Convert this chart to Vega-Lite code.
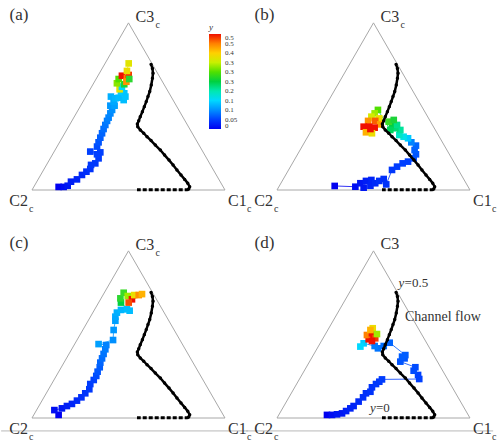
{
"$schema": "https://vega.github.io/schema/vega-lite/v6.json",
"padding": 0,
"bounds": "flush",
"spacing": 0,
"columns": 2,
"config": {"view": {"stroke": null}, "text": {"font": "Liberation Serif"}},
"resolve": {"scale": {"color": "independent", "stroke": "independent"}, "legend": {"color": "independent", "stroke": "independent"}},
"datasets": {
"tri": [{"o":0,"u":0,"v":0},{"o":1,"u":1,"v":0},{"o":2,"u":0.5,"v":0.866},{"o":3,"u":0,"v":0}],
"curve": [
{"o":1,"seg":"c","u":0.617,"v":0.651},{"o":2,"seg":"c","u":0.624,"v":0.630},{"o":3,"seg":"c","u":0.627,"v":0.605},{"o":4,"seg":"c","u":0.624,"v":0.579},{"o":5,"seg":"c","u":0.618,"v":0.544},{"o":6,"seg":"c","u":0.610,"v":0.510},{"o":7,"seg":"c","u":0.601,"v":0.484},{"o":8,"seg":"c","u":0.592,"v":0.458},{"o":9,"seg":"c","u":0.582,"v":0.432},{"o":10,"seg":"c","u":0.572,"v":0.406},{"o":11,"seg":"c","u":0.561,"v":0.380},{"o":12,"seg":"c","u":0.553,"v":0.359},{"o":13,"seg":"c","u":0.546,"v":0.342},{"o":14,"seg":"c","u":0.548,"v":0.328},{"o":15,"seg":"c","u":0.561,"v":0.311},{"o":16,"seg":"c","u":0.579,"v":0.294},{"o":17,"seg":"c","u":0.596,"v":0.276},{"o":18,"seg":"c","u":0.617,"v":0.256},{"o":19,"seg":"c","u":0.639,"v":0.233},{"o":20,"seg":"c","u":0.665,"v":0.207},{"o":21,"seg":"c","u":0.687,"v":0.181},{"o":22,"seg":"c","u":0.710,"v":0.155},{"o":23,"seg":"c","u":0.731,"v":0.130},{"o":24,"seg":"c","u":0.751,"v":0.104},{"o":25,"seg":"c","u":0.772,"v":0.078},{"o":26,"seg":"c","u":0.791,"v":0.055},{"o":27,"seg":"c","u":0.807,"v":0.035},{"o":28,"seg":"c","u":0.817,"v":0.017},{"o":29,"seg":"c","u":0.812,"v":0.005},
{"o":30,"seg":"b","u":0.812,"v":0.002},{"o":31,"seg":"b","u":0.803,"v":0.001},{"o":32,"seg":"b","u":0.777,"v":0.001},{"o":33,"seg":"b","u":0.751,"v":0.001},{"o":34,"seg":"b","u":0.725,"v":0.001},{"o":35,"seg":"b","u":0.699,"v":0.001},{"o":36,"seg":"b","u":0.674,"v":0.001},{"o":37,"seg":"b","u":0.648,"v":0.001},{"o":38,"seg":"b","u":0.622,"v":0.001},{"o":39,"seg":"b","u":0.596,"v":0.001},{"o":40,"seg":"b","u":0.570,"v":0.001},{"o":41,"seg":"b","u":0.544,"v":0.001}
],
"pa": [
{"i":1,"u":0.138,"v":0.016,"val":0.0},{"i":2,"u":0.164,"v":0.016,"val":0.005},{"i":3,"u":0.185,"v":0.022,"val":0.01},{"i":4,"u":0.202,"v":0.043,"val":0.015},{"i":5,"u":0.233,"v":0.055,"val":0.02},{"i":6,"u":0.259,"v":0.078,"val":0.025},{"i":7,"u":0.282,"v":0.095,"val":0.03},{"i":8,"u":0.302,"v":0.109,"val":0.035},{"i":9,"u":0.306,"v":0.130,"val":0.04},{"i":10,"u":0.328,"v":0.138,"val":0.04},{"i":11,"u":0.345,"v":0.164,"val":0.045},{"i":12,"u":0.337,"v":0.185,"val":0.05},{"i":13,"u":0.302,"v":0.199,"val":0.05},{"i":14,"u":0.354,"v":0.195,"val":0.05},{"i":15,"u":0.337,"v":0.225,"val":0.055},{"i":16,"u":0.345,"v":0.247,"val":0.06},{"i":17,"u":0.354,"v":0.271,"val":0.065},{"i":18,"u":0.363,"v":0.294,"val":0.07},{"i":19,"u":0.371,"v":0.316,"val":0.075},{"i":20,"u":0.380,"v":0.337,"val":0.08},{"i":21,"u":0.389,"v":0.358,"val":0.085},{"i":22,"u":0.397,"v":0.375,"val":0.09},{"i":23,"u":0.406,"v":0.397,"val":0.095},{"i":24,"u":0.415,"v":0.415,"val":0.1},{"i":25,"u":0.406,"v":0.437,"val":0.105},{"i":26,"u":0.428,"v":0.437,"val":0.11},{"i":27,"u":0.423,"v":0.458,"val":0.115},{"i":28,"u":0.409,"v":0.484,"val":0.12},{"i":29,"u":0.432,"v":0.475,"val":0.125},{"i":30,"u":0.449,"v":0.478,"val":0.13},{"i":31,"u":0.475,"v":0.466,"val":0.13},{"i":32,"u":0.478,"v":0.501,"val":0.135},{"i":33,"u":0.461,"v":0.509,"val":0.14},{"i":34,"u":0.484,"v":0.484,"val":0.135},{"i":35,"u":0.454,"v":0.522,"val":0.37},{"i":36,"u":0.466,"v":0.535,"val":0.15},{"i":37,"u":0.440,"v":0.553,"val":0.32},{"i":38,"u":0.478,"v":0.548,"val":0.26},{"i":39,"u":0.449,"v":0.575,"val":0.3},{"i":40,"u":0.466,"v":0.592,"val":0.5},{"i":41,"u":0.492,"v":0.579,"val":0.45},{"i":42,"u":0.501,"v":0.596,"val":0.49},{"i":43,"u":0.489,"v":0.561,"val":0.44},{"i":44,"u":0.504,"v":0.575,"val":0.27},{"i":45,"u":0.492,"v":0.617,"val":0.38},{"i":46,"u":0.501,"v":0.656,"val":0.37}
],
"pb": [
{"i":1,"u":0.299,"v":0.021,"val":0.0},{"i":2,"u":0.406,"v":0.017,"val":0.005},{"i":3,"u":0.432,"v":0.035,"val":0.01},{"i":4,"u":0.449,"v":0.012,"val":0.01},{"i":5,"u":0.461,"v":0.047,"val":0.015},{"i":6,"u":0.489,"v":0.052,"val":0.02},{"i":7,"u":0.484,"v":0.022,"val":0.02},{"i":8,"u":0.509,"v":0.035,"val":0.025},{"i":9,"u":0.530,"v":0.047,"val":0.03},{"i":10,"u":0.553,"v":0.057,"val":0.03},{"i":11,"u":0.566,"v":0.029,"val":0.035},{"i":12,"u":0.596,"v":0.104,"val":0.04},{"i":13,"u":0.622,"v":0.121,"val":0.045},{"i":14,"u":0.651,"v":0.138,"val":0.05},{"i":15,"u":0.679,"v":0.147,"val":0.05},{"i":16,"u":0.708,"v":0.164,"val":0.055},{"i":17,"u":0.720,"v":0.185,"val":0.06},{"i":18,"u":0.713,"v":0.207,"val":0.065},{"i":19,"u":0.720,"v":0.230,"val":0.07},{"i":20,"u":0.696,"v":0.247,"val":0.09},{"i":21,"u":0.679,"v":0.268,"val":0.14},{"i":22,"u":0.656,"v":0.276,"val":0.17},{"i":23,"u":0.634,"v":0.285,"val":0.19},{"i":24,"u":0.639,"v":0.311,"val":0.21},{"i":25,"u":0.613,"v":0.320,"val":0.23},{"i":26,"u":0.596,"v":0.337,"val":0.25},{"i":27,"u":0.622,"v":0.337,"val":0.22},{"i":28,"u":0.579,"v":0.354,"val":0.28},{"i":29,"u":0.605,"v":0.363,"val":0.26},{"i":30,"u":0.587,"v":0.311,"val":0.24},{"i":31,"u":0.523,"v":0.415,"val":0.3},{"i":32,"u":0.506,"v":0.397,"val":0.33},{"i":33,"u":0.489,"v":0.380,"val":0.36},{"i":34,"u":0.530,"v":0.371,"val":0.38},{"i":35,"u":0.472,"v":0.358,"val":0.44},{"i":36,"u":0.509,"v":0.358,"val":0.47},{"i":37,"u":0.535,"v":0.340,"val":0.43},{"i":38,"u":0.449,"v":0.328,"val":0.5},{"i":39,"u":0.478,"v":0.328,"val":0.5},{"i":40,"u":0.506,"v":0.323,"val":0.5},{"i":41,"u":0.461,"v":0.299,"val":0.42},{"i":42,"u":0.492,"v":0.294,"val":0.38},{"i":43,"u":0.484,"v":0.316,"val":0.5}
],
"pc": [
{"i":1,"u":0.138,"v":0.016,"val":0.0},{"i":2,"u":0.116,"v":0.041,"val":0.005},{"i":3,"u":0.155,"v":0.050,"val":0.01},{"i":4,"u":0.181,"v":0.062,"val":0.015},{"i":5,"u":0.207,"v":0.073,"val":0.02},{"i":6,"u":0.233,"v":0.090,"val":0.025},{"i":7,"u":0.256,"v":0.107,"val":0.03},{"i":8,"u":0.276,"v":0.128,"val":0.035},{"i":9,"u":0.297,"v":0.149,"val":0.04},{"i":10,"u":0.302,"v":0.176,"val":0.045},{"i":11,"u":0.320,"v":0.197,"val":0.05},{"i":12,"u":0.333,"v":0.218,"val":0.055},{"i":13,"u":0.340,"v":0.240,"val":0.06},{"i":14,"u":0.351,"v":0.263,"val":0.065},{"i":15,"u":0.354,"v":0.287,"val":0.07},{"i":16,"u":0.363,"v":0.309,"val":0.075},{"i":17,"u":0.371,"v":0.332,"val":0.08},{"i":18,"u":0.380,"v":0.356,"val":0.085},{"i":19,"u":0.385,"v":0.378,"val":0.09},{"i":20,"u":0.345,"v":0.383,"val":0.11},{"i":21,"u":0.420,"v":0.404,"val":0.1},{"i":22,"u":0.423,"v":0.456,"val":0.105},{"i":23,"u":0.432,"v":0.504,"val":0.11},{"i":24,"u":0.432,"v":0.525,"val":0.115},{"i":25,"u":0.440,"v":0.546,"val":0.12},{"i":26,"u":0.461,"v":0.560,"val":0.125},{"i":27,"u":0.492,"v":0.563,"val":0.13},{"i":28,"u":0.506,"v":0.556,"val":0.13},{"i":29,"u":0.461,"v":0.598,"val":0.25},{"i":30,"u":0.458,"v":0.620,"val":0.27},{"i":31,"u":0.475,"v":0.649,"val":0.28},{"i":32,"u":0.496,"v":0.632,"val":0.33},{"i":33,"u":0.518,"v":0.615,"val":0.5},{"i":34,"u":0.530,"v":0.637,"val":0.38},{"i":35,"u":0.553,"v":0.637,"val":0.44},{"i":36,"u":0.501,"v":0.598,"val":0.48},{"i":37,"u":0.570,"v":0.642,"val":0.42}
],
"pd": [
{"i":1,"u":0.259,"v":0.016,"val":0.0},{"i":2,"u":0.285,"v":0.016,"val":0.005},{"i":3,"u":0.311,"v":0.019,"val":0.01},{"i":4,"u":0.337,"v":0.024,"val":0.01},{"i":5,"u":0.358,"v":0.036,"val":0.015},{"i":6,"u":0.380,"v":0.050,"val":0.02},{"i":7,"u":0.397,"v":0.062,"val":0.02},{"i":8,"u":0.423,"v":0.085,"val":0.025},{"i":9,"u":0.446,"v":0.107,"val":0.03},{"i":10,"u":0.461,"v":0.128,"val":0.03},{"i":11,"u":0.484,"v":0.136,"val":0.035},{"i":12,"u":0.492,"v":0.159,"val":0.035},{"i":13,"u":0.513,"v":0.176,"val":0.04},{"i":14,"u":0.530,"v":0.188,"val":0.04},{"i":15,"u":0.544,"v":0.200,"val":0.045},{"i":16,"u":0.737,"v":0.202,"val":0.05},{"i":17,"u":0.731,"v":0.223,"val":0.05},{"i":18,"u":0.708,"v":0.245,"val":0.055},{"i":19,"u":0.717,"v":0.263,"val":0.055},{"i":20,"u":0.639,"v":0.292,"val":0.06},{"i":21,"u":0.661,"v":0.309,"val":0.06},{"i":22,"u":0.648,"v":0.318,"val":0.065},{"i":23,"u":0.665,"v":0.326,"val":0.065},{"i":24,"u":0.584,"v":0.390,"val":0.07},{"i":25,"u":0.553,"v":0.373,"val":0.075},{"i":26,"u":0.523,"v":0.361,"val":0.08},{"i":27,"u":0.506,"v":0.373,"val":0.085},{"i":28,"u":0.449,"v":0.387,"val":0.14},{"i":29,"u":0.432,"v":0.370,"val":0.15},{"i":30,"u":0.475,"v":0.408,"val":0.5},{"i":31,"u":0.466,"v":0.430,"val":0.45},{"i":32,"u":0.492,"v":0.439,"val":0.5},{"i":33,"u":0.509,"v":0.413,"val":0.49},{"i":34,"u":0.496,"v":0.465,"val":0.38},{"i":35,"u":0.484,"v":0.456,"val":0.42},{"i":36,"u":0.518,"v":0.435,"val":0.33},{"i":37,"u":0.492,"v":0.399,"val":0.5}
]
},
"concat": [
{
"width": 245, "height": 228,
"encoding": {
"x": {"field": "u", "type": "quantitative", "scale": {"domain": [-0.1554, 1.114], "nice": false, "zero": false}, "axis": null},
"y": {"field": "v", "type": "quantitative", "scale": {"domain": [-0.1969, 0.9845], "nice": false, "zero": false}, "axis": null}
},
"layer": [
{"data": {"name": "tri"}, "mark": {"type": "line", "color": "#a8a8a8", "strokeWidth": 1}, "encoding": {"order": {"field": "o", "type": "quantitative"}}},
{"data": {"name": "pa"}, "transform": [{"window": [{"op": "lead", "field": "u", "as": "u2"}, {"op": "lead", "field": "v", "as": "v2"}], "sort": [{"field": "i", "order": "ascending"}]}, {"filter": "datum.u2 != null"}],
 "mark": {"type": "rule", "strokeWidth": 0.8},
 "encoding": {"x2": {"field": "u2"}, "y2": {"field": "v2"},
  "stroke": {"field": "val", "type": "quantitative", "scale": {"domain": [0, 0.50001], "range": ["#0000f0","#0040ff","#0090ff","#00d8ff","#00e8b0","#00d040","#50e000","#c8f000","#ffd000","#ff8000","#f01000"]}, "legend": null}}},
{"data": {"name": "pa"}, "mark": {"type": "square", "size": 44, "opacity": 1},
 "encoding": {"color": {"field": "val", "type": "quantitative", "scale": {"domain": [0, 0.5], "range": ["#0000f0","#0040ff","#0090ff","#00d8ff","#00e8b0","#00d040","#50e000","#c8f000","#ffd000","#ff8000","#f01000"]},
   "legend": {"type": "gradient", "orient": "none", "legendX": 207, "legendY": 23, "direction": "vertical", "title": "y", "titleFontStyle": "italic", "titleFont": "Liberation Serif", "titleFontSize": 9, "titleFontWeight": "normal", "titlePadding": 2, "titleColor": "#333", "gradientLength": 95, "gradientThickness": 12, "gradientStrokeWidth": 0, "values": [0, 0.05, 0.1, 0.15, 0.2, 0.25, 0.3, 0.35, 0.4, 0.45, 0.5], "format": "~g", "labelFont": "Liberation Serif", "labelFontSize": 7, "labelColor": "#333", "labelOffset": 4, "labelBaseline": "middle", "labelOverlap": false, "padding": 0}}}},
{"data": {"name": "curve"}, "transform": [{"filter": "datum.seg == 'c'"}], "mark": {"type": "line", "color": "black", "strokeWidth": 2.5}, "encoding": {"order": {"field": "o", "type": "quantitative"}}},
{"data": {"name": "curve"}, "transform": [{"filter": "datum.seg == 'b'"}], "mark": {"type": "line", "color": "black", "strokeWidth": 3, "strokeDash": [4, 2]}, "encoding": {"order": {"field": "o", "type": "quantitative"}}},
{"data": {"name": "curve"}, "transform": [{"filter": "datum.seg == 'c'"}], "mark": {"type": "circle", "color": "black", "size": 12, "opacity": 1}},
{"data": {"values": [{"u": 0, "v": 0, "lab": "C2"}]}, "mark": {"type": "text", "fontSize": 16, "color": "#333", "align": "right", "baseline": "middle", "dx": -4, "dy": 11}, "encoding": {"text": {"field": "lab"}}},
{"data": {"values": [{"u": 0, "v": 0, "lab": "c"}]}, "mark": {"type": "text", "fontSize": 10, "color": "#333", "align": "left", "baseline": "middle", "dx": -3, "dy": 19}, "encoding": {"text": {"field": "lab"}}},
{"data": {"values": [{"u": 1, "v": 0, "lab": "C1"}]}, "mark": {"type": "text", "fontSize": 16, "color": "#333", "align": "left", "baseline": "middle", "dx": 3, "dy": 11}, "encoding": {"text": {"field": "lab"}}},
{"data": {"values": [{"u": 1, "v": 0, "lab": "c"}]}, "mark": {"type": "text", "fontSize": 10, "color": "#333", "align": "left", "baseline": "middle", "dx": 22, "dy": 19}, "encoding": {"text": {"field": "lab"}}},
{"data": {"values": [{"u": 0.5, "v": 0.866, "lab": "C3"}]}, "mark": {"type": "text", "fontSize": 16, "color": "#333", "align": "left", "baseline": "middle", "dx": 7, "dy": -6}, "encoding": {"text": {"field": "lab"}}},
{"data": {"values": [{"u": 0.5, "v": 0.866, "lab": "c"}]}, "mark": {"type": "text", "fontSize": 10, "color": "#333", "align": "left", "baseline": "middle", "dx": 27, "dy": 2}, "encoding": {"text": {"field": "lab"}}},
{"data": {"values": [{"u": -0.116, "v": 0.907, "lab": "(a)"}]}, "mark": {"type": "text", "fontSize": 17, "color": "#333", "align": "left", "baseline": "middle"}, "encoding": {"text": {"field": "lab"}}}
]
},
{
"width": 245, "height": 228,
"encoding": {
"x": {"field": "u", "type": "quantitative", "scale": {"domain": [-0.1554, 1.114], "nice": false, "zero": false}, "axis": null},
"y": {"field": "v", "type": "quantitative", "scale": {"domain": [-0.1969, 0.9845], "nice": false, "zero": false}, "axis": null}
},
"layer": [
{"data": {"name": "tri"}, "mark": {"type": "line", "color": "#a8a8a8", "strokeWidth": 1}, "encoding": {"order": {"field": "o", "type": "quantitative"}}},
{"data": {"name": "pb"}, "transform": [{"window": [{"op": "lead", "field": "u", "as": "u2"}, {"op": "lead", "field": "v", "as": "v2"}], "sort": [{"field": "i", "order": "ascending"}]}, {"filter": "datum.u2 != null"}],
 "mark": {"type": "rule", "strokeWidth": 0.8},
 "encoding": {"x2": {"field": "u2"}, "y2": {"field": "v2"},
  "stroke": {"field": "val", "type": "quantitative", "scale": {"domain": [0, 0.50001], "range": ["#0000f0","#0040ff","#0090ff","#00d8ff","#00e8b0","#00d040","#50e000","#c8f000","#ffd000","#ff8000","#f01000"]}, "legend": null}}},
{"data": {"name": "pb"}, "mark": {"type": "square", "size": 44, "opacity": 1},
 "encoding": {"color": {"field": "val", "type": "quantitative", "scale": {"domain": [0, 0.5], "range": ["#0000f0","#0040ff","#0090ff","#00d8ff","#00e8b0","#00d040","#50e000","#c8f000","#ffd000","#ff8000","#f01000"]}, "legend": null}}},
{"data": {"name": "curve"}, "transform": [{"filter": "datum.seg == 'c'"}], "mark": {"type": "line", "color": "black", "strokeWidth": 2.5}, "encoding": {"order": {"field": "o", "type": "quantitative"}}},
{"data": {"name": "curve"}, "transform": [{"filter": "datum.seg == 'b'"}], "mark": {"type": "line", "color": "black", "strokeWidth": 3, "strokeDash": [4, 2]}, "encoding": {"order": {"field": "o", "type": "quantitative"}}},
{"data": {"name": "curve"}, "transform": [{"filter": "datum.seg == 'c'"}], "mark": {"type": "circle", "color": "black", "size": 12, "opacity": 1}},
{"data": {"values": [{"u": 0, "v": 0, "lab": "C2"}]}, "mark": {"type": "text", "fontSize": 16, "color": "#333", "align": "right", "baseline": "middle", "dx": -4, "dy": 11}, "encoding": {"text": {"field": "lab"}}},
{"data": {"values": [{"u": 0, "v": 0, "lab": "c"}]}, "mark": {"type": "text", "fontSize": 10, "color": "#333", "align": "left", "baseline": "middle", "dx": -3, "dy": 19}, "encoding": {"text": {"field": "lab"}}},
{"data": {"values": [{"u": 1, "v": 0, "lab": "C1"}]}, "mark": {"type": "text", "fontSize": 16, "color": "#333", "align": "left", "baseline": "middle", "dx": 3, "dy": 11}, "encoding": {"text": {"field": "lab"}}},
{"data": {"values": [{"u": 1, "v": 0, "lab": "c"}]}, "mark": {"type": "text", "fontSize": 10, "color": "#333", "align": "left", "baseline": "middle", "dx": 22, "dy": 19}, "encoding": {"text": {"field": "lab"}}},
{"data": {"values": [{"u": 0.5, "v": 0.866, "lab": "C3"}]}, "mark": {"type": "text", "fontSize": 16, "color": "#333", "align": "left", "baseline": "middle", "dx": 7, "dy": -6}, "encoding": {"text": {"field": "lab"}}},
{"data": {"values": [{"u": 0.5, "v": 0.866, "lab": "c"}]}, "mark": {"type": "text", "fontSize": 10, "color": "#333", "align": "left", "baseline": "middle", "dx": 27, "dy": 2}, "encoding": {"text": {"field": "lab"}}},
{"data": {"values": [{"u": -0.116, "v": 0.907, "lab": "(b)"}]}, "mark": {"type": "text", "fontSize": 17, "color": "#333", "align": "left", "baseline": "middle"}, "encoding": {"text": {"field": "lab"}}}
]
},
{
"width": 245, "height": 228,
"encoding": {
"x": {"field": "u", "type": "quantitative", "scale": {"domain": [-0.1554, 1.114], "nice": false, "zero": false}, "axis": null},
"y": {"field": "v", "type": "quantitative", "scale": {"domain": [-0.1969, 0.9845], "nice": false, "zero": false}, "axis": null}
},
"layer": [
{"data": {"values": [{"u": -0.16, "v": -0.067, "u2": 1.12}]}, "mark": {"type": "rule", "color": "#b8b8b8", "strokeWidth": 1}, "encoding": {"x2": {"field": "u2"}}},
{"data": {"name": "tri"}, "mark": {"type": "line", "color": "#a8a8a8", "strokeWidth": 1}, "encoding": {"order": {"field": "o", "type": "quantitative"}}},
{"data": {"name": "pc"}, "transform": [{"window": [{"op": "lead", "field": "u", "as": "u2"}, {"op": "lead", "field": "v", "as": "v2"}], "sort": [{"field": "i", "order": "ascending"}]}, {"filter": "datum.u2 != null"}],
 "mark": {"type": "rule", "strokeWidth": 0.8},
 "encoding": {"x2": {"field": "u2"}, "y2": {"field": "v2"},
  "stroke": {"field": "val", "type": "quantitative", "scale": {"domain": [0, 0.50001], "range": ["#0000f0","#0040ff","#0090ff","#00d8ff","#00e8b0","#00d040","#50e000","#c8f000","#ffd000","#ff8000","#f01000"]}, "legend": null}}},
{"data": {"name": "pc"}, "mark": {"type": "square", "size": 44, "opacity": 1},
 "encoding": {"color": {"field": "val", "type": "quantitative", "scale": {"domain": [0, 0.5], "range": ["#0000f0","#0040ff","#0090ff","#00d8ff","#00e8b0","#00d040","#50e000","#c8f000","#ffd000","#ff8000","#f01000"]}, "legend": null}}},
{"data": {"name": "curve"}, "transform": [{"filter": "datum.seg == 'c'"}], "mark": {"type": "line", "color": "black", "strokeWidth": 2.5}, "encoding": {"order": {"field": "o", "type": "quantitative"}}},
{"data": {"name": "curve"}, "transform": [{"filter": "datum.seg == 'b'"}], "mark": {"type": "line", "color": "black", "strokeWidth": 3, "strokeDash": [4, 2]}, "encoding": {"order": {"field": "o", "type": "quantitative"}}},
{"data": {"name": "curve"}, "transform": [{"filter": "datum.seg == 'c'"}], "mark": {"type": "circle", "color": "black", "size": 12, "opacity": 1}},
{"data": {"values": [{"u": 0, "v": 0, "lab": "C2"}]}, "mark": {"type": "text", "fontSize": 16, "color": "#333", "align": "right", "baseline": "middle", "dx": -4, "dy": 11}, "encoding": {"text": {"field": "lab"}}},
{"data": {"values": [{"u": 0, "v": 0, "lab": "c"}]}, "mark": {"type": "text", "fontSize": 10, "color": "#333", "align": "left", "baseline": "middle", "dx": -3, "dy": 19}, "encoding": {"text": {"field": "lab"}}},
{"data": {"values": [{"u": 1, "v": 0, "lab": "C1"}]}, "mark": {"type": "text", "fontSize": 16, "color": "#333", "align": "left", "baseline": "middle", "dx": 3, "dy": 11}, "encoding": {"text": {"field": "lab"}}},
{"data": {"values": [{"u": 1, "v": 0, "lab": "c"}]}, "mark": {"type": "text", "fontSize": 10, "color": "#333", "align": "left", "baseline": "middle", "dx": 22, "dy": 19}, "encoding": {"text": {"field": "lab"}}},
{"data": {"values": [{"u": 0.5, "v": 0.866, "lab": "C3"}]}, "mark": {"type": "text", "fontSize": 16, "color": "#333", "align": "left", "baseline": "middle", "dx": 7, "dy": -6}, "encoding": {"text": {"field": "lab"}}},
{"data": {"values": [{"u": 0.5, "v": 0.866, "lab": "c"}]}, "mark": {"type": "text", "fontSize": 10, "color": "#333", "align": "left", "baseline": "middle", "dx": 27, "dy": 2}, "encoding": {"text": {"field": "lab"}}},
{"data": {"values": [{"u": -0.116, "v": 0.907, "lab": "(c)"}]}, "mark": {"type": "text", "fontSize": 17, "color": "#333", "align": "left", "baseline": "middle"}, "encoding": {"text": {"field": "lab"}}}
]
},
{
"width": 245, "height": 228,
"encoding": {
"x": {"field": "u", "type": "quantitative", "scale": {"domain": [-0.1554, 1.114], "nice": false, "zero": false}, "axis": null},
"y": {"field": "v", "type": "quantitative", "scale": {"domain": [-0.1969, 0.9845], "nice": false, "zero": false}, "axis": null}
},
"layer": [
{"data": {"values": [{"u": -0.16, "v": -0.067, "u2": 1.12}]}, "mark": {"type": "rule", "color": "#b8b8b8", "strokeWidth": 1}, "encoding": {"x2": {"field": "u2"}}},
{"data": {"name": "tri"}, "mark": {"type": "line", "color": "#a8a8a8", "strokeWidth": 1}, "encoding": {"order": {"field": "o", "type": "quantitative"}}},
{"data": {"name": "pd"}, "transform": [{"window": [{"op": "lead", "field": "u", "as": "u2"}, {"op": "lead", "field": "v", "as": "v2"}], "sort": [{"field": "i", "order": "ascending"}]}, {"filter": "datum.u2 != null"}],
 "mark": {"type": "rule", "strokeWidth": 0.8},
 "encoding": {"x2": {"field": "u2"}, "y2": {"field": "v2"},
  "stroke": {"field": "val", "type": "quantitative", "scale": {"domain": [0, 0.50001], "range": ["#0000f0","#0040ff","#0090ff","#00d8ff","#00e8b0","#00d040","#50e000","#c8f000","#ffd000","#ff8000","#f01000"]}, "legend": null}}},
{"data": {"name": "pd"}, "mark": {"type": "square", "size": 44, "opacity": 1},
 "encoding": {"color": {"field": "val", "type": "quantitative", "scale": {"domain": [0, 0.5], "range": ["#0000f0","#0040ff","#0090ff","#00d8ff","#00e8b0","#00d040","#50e000","#c8f000","#ffd000","#ff8000","#f01000"]}, "legend": null}}},
{"data": {"name": "curve"}, "transform": [{"filter": "datum.seg == 'c'"}], "mark": {"type": "line", "color": "black", "strokeWidth": 2.5}, "encoding": {"order": {"field": "o", "type": "quantitative"}}},
{"data": {"name": "curve"}, "transform": [{"filter": "datum.seg == 'b'"}], "mark": {"type": "line", "color": "black", "strokeWidth": 3, "strokeDash": [4, 2]}, "encoding": {"order": {"field": "o", "type": "quantitative"}}},
{"data": {"name": "curve"}, "transform": [{"filter": "datum.seg == 'c'"}], "mark": {"type": "circle", "color": "black", "size": 12, "opacity": 1}},
{"data": {"values": [{"u": 0, "v": 0, "lab": "C2"}]}, "mark": {"type": "text", "fontSize": 16, "color": "#333", "align": "right", "baseline": "middle", "dx": -4, "dy": 11}, "encoding": {"text": {"field": "lab"}}},
{"data": {"values": [{"u": 0, "v": 0, "lab": "c"}]}, "mark": {"type": "text", "fontSize": 10, "color": "#333", "align": "left", "baseline": "middle", "dx": -3, "dy": 19}, "encoding": {"text": {"field": "lab"}}},
{"data": {"values": [{"u": 1, "v": 0, "lab": "C1"}]}, "mark": {"type": "text", "fontSize": 16, "color": "#333", "align": "left", "baseline": "middle", "dx": 3, "dy": 11}, "encoding": {"text": {"field": "lab"}}},
{"data": {"values": [{"u": 1, "v": 0, "lab": "c"}]}, "mark": {"type": "text", "fontSize": 10, "color": "#333", "align": "left", "baseline": "middle", "dx": 22, "dy": 19}, "encoding": {"text": {"field": "lab"}}},
{"data": {"values": [{"u": 0.5, "v": 0.866, "lab": "C3"}]}, "mark": {"type": "text", "fontSize": 16, "color": "#333", "align": "left", "baseline": "middle", "dx": 7, "dy": -7}, "encoding": {"text": {"field": "lab"}}},
{"data": {"values": [{"u": 0.630, "v": 0.698, "lab": "y"}, {"u": 0.482, "v": 0.053, "lab": "y"}]}, "mark": {"type": "text", "fontSize": 13, "color": "#333", "fontStyle": "italic", "align": "left", "baseline": "middle"}, "encoding": {"text": {"field": "lab"}}},
{"data": {"values": [{"u": 0.630, "v": 0.698, "lab": "=0.5"}, {"u": 0.482, "v": 0.053, "lab": "=0"}]}, "mark": {"type": "text", "fontSize": 13, "color": "#333", "align": "left", "baseline": "middle", "dx": 6}, "encoding": {"text": {"field": "lab"}}},
{"data": {"values": [{"u": 0.663, "v": 0.523, "lab": "Channel flow"}]}, "mark": {"type": "text", "fontSize": 14, "color": "#333", "align": "left", "baseline": "middle"}, "encoding": {"text": {"field": "lab"}}},
{"data": {"values": [{"u": -0.116, "v": 0.907, "lab": "(d)"}]}, "mark": {"type": "text", "fontSize": 17, "color": "#333", "align": "left", "baseline": "middle"}, "encoding": {"text": {"field": "lab"}}}
]
}
]
}
